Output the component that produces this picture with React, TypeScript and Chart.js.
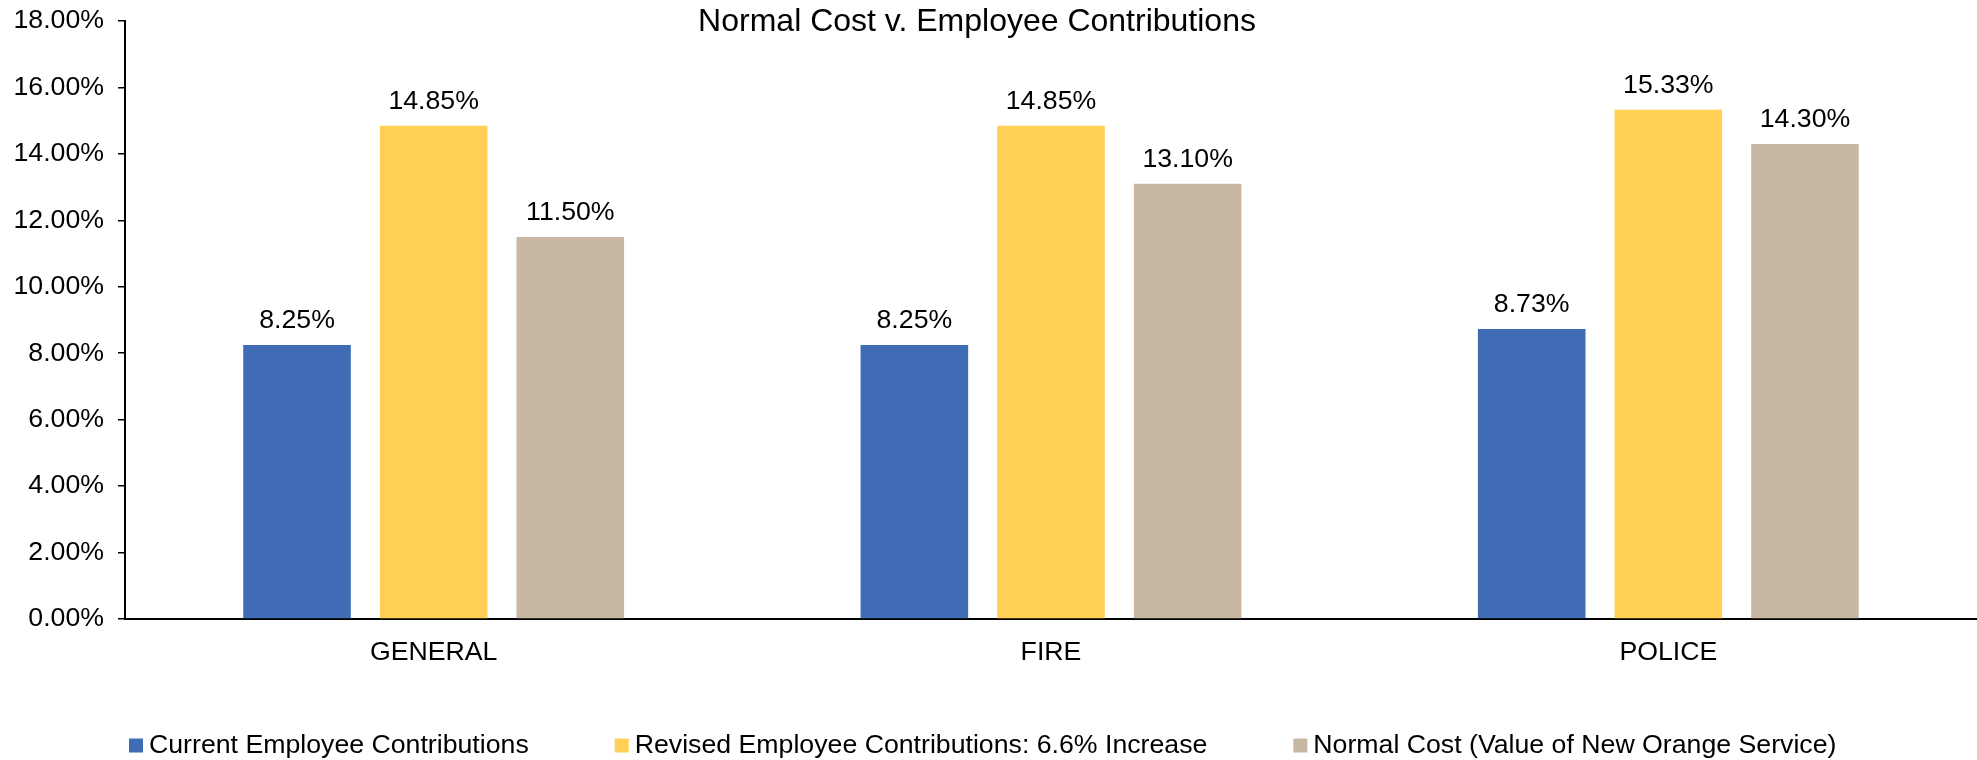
import React, { useEffect, useRef } from "react";
import { Chart, registerables } from "chart.js";

Chart.register(...registerables);

const categories = ["GENERAL", "FIRE", "POLICE"];
const currentContrib = [8.25, 8.25, 8.73];
const revisedContrib = [14.85, 14.85, 15.33];
const normalCost = [11.5, 13.1, 14.3];
const seriesLabels = [
  "Current Employee Contributions",
  "Revised Employee Contributions: 6.6% Increase",
  "Normal Cost (Value of New Orange Service)",
];
const seriesColors = ["#3F6CB4", "#FFD055", "#C8B8A3"];
const titleText = "Normal Cost v. Employee Contributions";
const yMin = 0;
const yMax = 18;
const yStep = 2;

const FONT = '"Liberation Sans", Arial, sans-serif';
const FS = 26.7;

const titlePlugin = {
  id: "customTitle",
  afterDraw(chart: any) {
    const ctx = chart.ctx;
    ctx.save();
    ctx.font = `32px ${FONT}`;
    ctx.fillStyle = "#000";
    ctx.textAlign = "center";
    ctx.textBaseline = "alphabetic";
    ctx.fillText(titleText, chart.width * 0.4942, 31);
    ctx.restore();
  },
};

const dataLabelPlugin = {
  id: "valueLabels",
  afterDatasetsDraw(chart: any) {
    const ctx = chart.ctx;
    ctx.save();
    ctx.font = `${FS}px ${FONT}`;
    ctx.fillStyle = "#000";
    ctx.textAlign = "center";
    ctx.textBaseline = "alphabetic";
    chart.data.datasets.forEach((ds: any, i: number) => {
      const meta = chart.getDatasetMeta(i);
      meta.data.forEach((bar: any, j: number) => {
        const v = ds.data[j] as number;
        ctx.fillText(v.toFixed(2) + "%", bar.x, bar.y - 17);
      });
    });
    ctx.restore();
  },
};

const legendPlugin = {
  id: "customLegend",
  afterDraw(chart: any) {
    const ctx = chart.ctx;
    ctx.save();
    ctx.font = `${FS}px ${FONT}`;
    ctx.textBaseline = "middle";
    ctx.textAlign = "left";
    let x = chart.chartArea.left + 4;
    const yc = 745.5;
    const box = 14;
    chart.data.datasets.forEach((ds: any) => {
      ctx.fillStyle = ds.backgroundColor;
      ctx.fillRect(x, yc - box / 2, box, box);
      ctx.fillStyle = "#000";
      const tx = x + box + 6;
      ctx.fillText(ds.label, tx, yc);
      x = tx + ctx.measureText(ds.label).width + 86;
    });
    ctx.restore();
  },
};

export default function App() {
  const ref = useRef<HTMLCanvasElement | null>(null);

  useEffect(() => {
    document.body.style.margin = "0";
    const canvas = ref.current;
    if (!canvas) return;
    const seriesData = [currentContrib, revisedContrib, normalCost];
    const chart = new Chart(canvas, {
      type: "bar",
      data: {
        labels: categories,
        datasets: seriesData.map((d, i) => ({
          label: seriesLabels[i],
          data: d,
          backgroundColor: seriesColors[i],
          borderWidth: 0,
          categoryPercentage: 0.664,
          barPercentage: 0.7875,
        })),
      },
      options: {
        responsive: false,
        animation: false,
        devicePixelRatio: 1,
        layout: { padding: { top: 21, right: 0, bottom: 0, left: 0 } },
        plugins: {
          legend: { display: false },
          title: { display: false },
          tooltip: { enabled: false },
        },
        scales: {
          x: {
            grid: { display: false, drawTicks: false },
            border: { display: true, color: "#000", width: 2 },
            ticks: {
              color: "#000",
              font: { family: FONT, size: FS },
              padding: 18,
              maxRotation: 0,
            },
            afterFit(scale: any) {
              scale.height = 141;
              scale.paddingLeft = 0;
              scale.paddingRight = 0;
            },
          },
          y: {
            min: yMin,
            max: yMax,
            grid: {
              display: true,
              drawOnChartArea: false,
              drawTicks: true,
              tickLength: 7,
              color: "#000",
              lineWidth: 1.5,
            },
            border: { display: true, color: "#000", width: 2 },
            ticks: {
              stepSize: yStep,
              color: "#000",
              font: { family: FONT, size: FS },
              padding: 14,
              callback: (v: any) => Number(v).toFixed(2) + "%",
            },
            afterFit(scale: any) {
              scale.width = 125;
              scale.paddingTop = 0;
              scale.paddingBottom = 0;
            },
          },
        },
      },
      plugins: [titlePlugin, dataLabelPlugin, legendPlugin],
    });
    return () => chart.destroy();
  }, []);

  return (
    <div style={{ width: 1977, height: 760 }}>
      <canvas ref={ref} width={1977} height={760} style={{ width: 1977, height: 760, display: "block" }} />
    </div>
  );
}
